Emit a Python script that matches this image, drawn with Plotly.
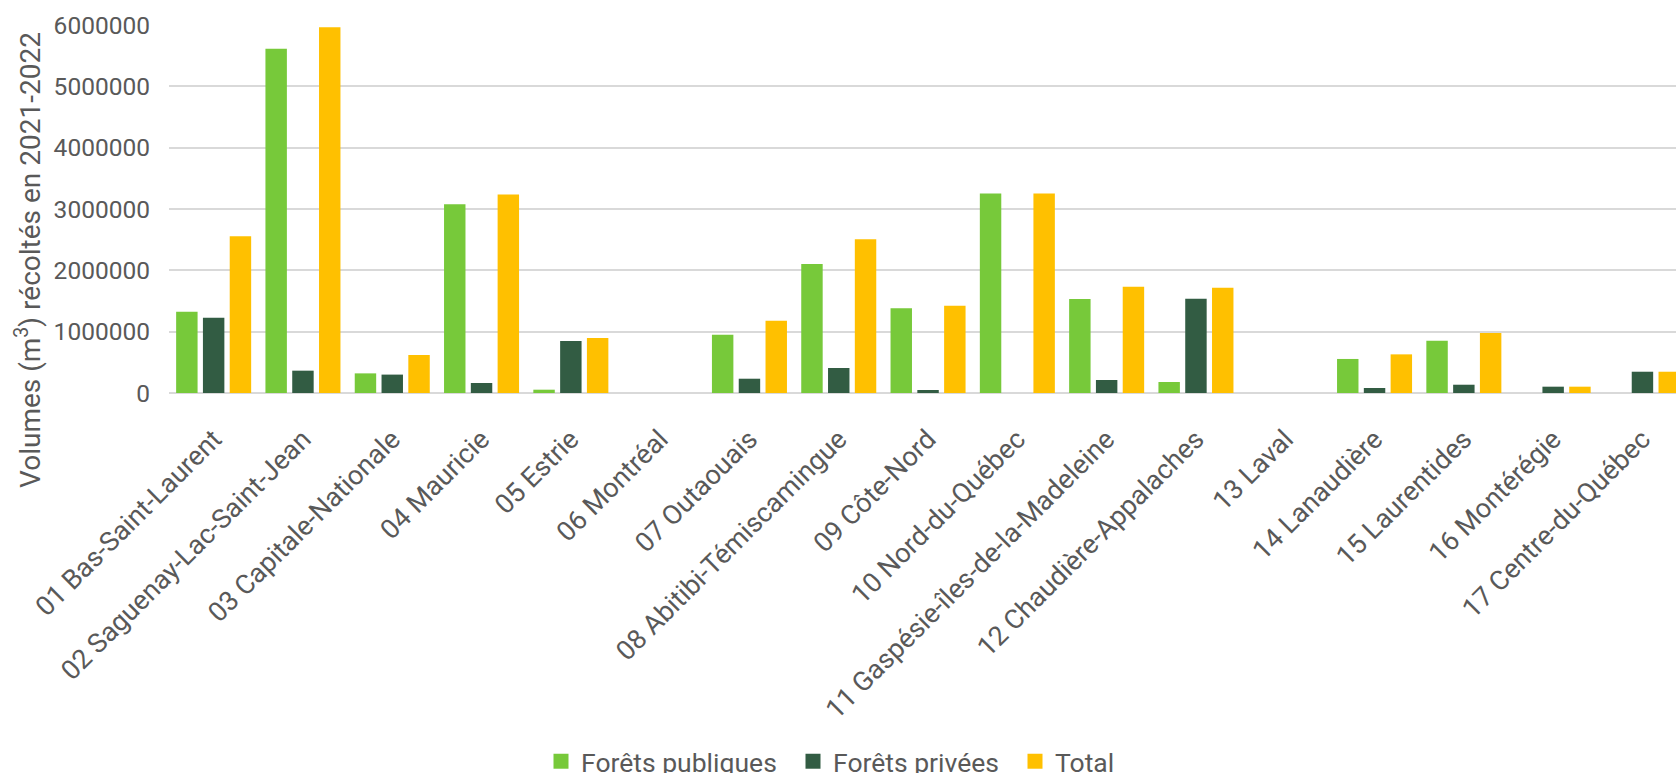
import plotly.graph_objects as go

regions = [
    "01 Bas-Saint-Laurent", "02 Saguenay-Lac-Saint-Jean", "03 Capitale-Nationale",
    "04 Mauricie", "05 Estrie", "06 Montréal", "07 Outaouais",
    "08 Abitibi-Témiscamingue", "09 Côte-Nord", "10 Nord-du-Québec",
    "11 Gaspésie-îles-de-la-Madeleine", "12 Chaudière-Appalaches", "13 Laval",
    "14 Lanaudière", "15 Laurentides", "16 Montérégie", "17 Centre-du-Québec",
]
forets_publiques = [1326000, 5611000, 320000, 3077000, 54000, 0, 951000,
                    2104000, 1380000, 3251000, 1533000, 179000, 0,
                    555000, 853000, 0, 0]
forets_privees = [1228000, 364000, 300000, 163000, 848000, 0, 233000,
                  408000, 49000, 0, 212000, 1538000, 0,
                  82000, 135000, 103000, 347000]
total = [2555000, 5964000, 620000, 3235000, 897000, 0, 1179000,
         2506000, 1424000, 3251000, 1734000, 1718000, 0,
         630000, 979000, 103000, 347000]

series_names = ["Forêts publiques", "Forêts privées", "Total"]
series_colors = ["#77C93A", "#325C43", "#FFC000"]
y_ticks = [0, 1000000, 2000000, 3000000, 4000000, 5000000, 6000000]

FONT = "Roboto"
GREY = "#595959"

W, H = 1676, 773
ml, mr, mt, mb = 169, 0, 25, 380
ph = H - mt - mb
pw = W - ml - mr
n_vis = pw / 89.3

# legend square left edges (px) in the reference
legend_px = [556, 808, 1030]
legend_ids = ["legend", "legend2", "legend3"]

fig = go.Figure()
for name, vals, col in zip(series_names, [forets_publiques, forets_privees, total], series_colors):
    fig.add_trace(go.Bar(x=regions, y=vals, name=name, showlegend=False,
                         marker=dict(color=col, line=dict(width=0))))
# legend-only entries (square swatches)
for name, col, lid in zip(series_names, series_colors, legend_ids):
    fig.add_trace(go.Scatter(x=[None], y=[None], name=name, mode="markers",
                             marker=dict(symbol="square", size=15, color=col),
                             legend=lid, showlegend=True))

legend_y = -(mb - (H - 761.5)) / ph
common_leg = dict(orientation="h", xanchor="left", y=legend_y, yanchor="middle",
                  font=dict(size=26.5, color=GREY, family=FONT), itemwidth=30,
                  bgcolor="rgba(0,0,0,0)")
legs = {}
for lid, px in zip(legend_ids, legend_px):
    d = dict(common_leg)
    d["x"] = (px - 15 - ml) / pw
    legs[lid] = d

fig.update_layout(
    width=W, height=H,
    margin=dict(l=ml, r=mr, t=mt, b=mb, autoexpand=False),
    paper_bgcolor="white", plot_bgcolor="white",
    barmode="group", bargap=0.1, bargroupgap=0.2,
    font=dict(family=FONT, color=GREY, size=25),
    showlegend=True,
    xaxis=dict(type="category", range=[-0.5, -0.5 + n_vis], tickangle=-45,
               showgrid=False, showline=False, ticks="", ticklabelstandoff=24,
               tickfont=dict(size=27, color=GREY)),
    yaxis=dict(range=[0, 6000000], tickvals=y_ticks, ticktext=[str(v) for v in y_ticks],
               showgrid=True, gridcolor="#D9D9D9", gridwidth=1.6,
               zeroline=True, zerolinecolor="#D9D9D9", zerolinewidth=1.8,
               showline=False, ticks="", ticklabelstandoff=18,
               tickfont=dict(size=24.5, color=GREY)),
    **legs,
)

fig.add_annotation(
    text="Volumes (m<sup>3</sup>) récoltés en 2021-2022",
    xref="paper", yref="paper",
    x=(28 - ml) / pw, y=(mt + ph - 260) / ph,
    xanchor="center", yanchor="middle", textangle=-90, showarrow=False,
    font=dict(size=28, color=GREY, family=FONT),
)

fig.write_html("out.html", config={"displayModeBar": False},
               post_script="document.body.style.margin='0';document.body.style.overflow='hidden';")
